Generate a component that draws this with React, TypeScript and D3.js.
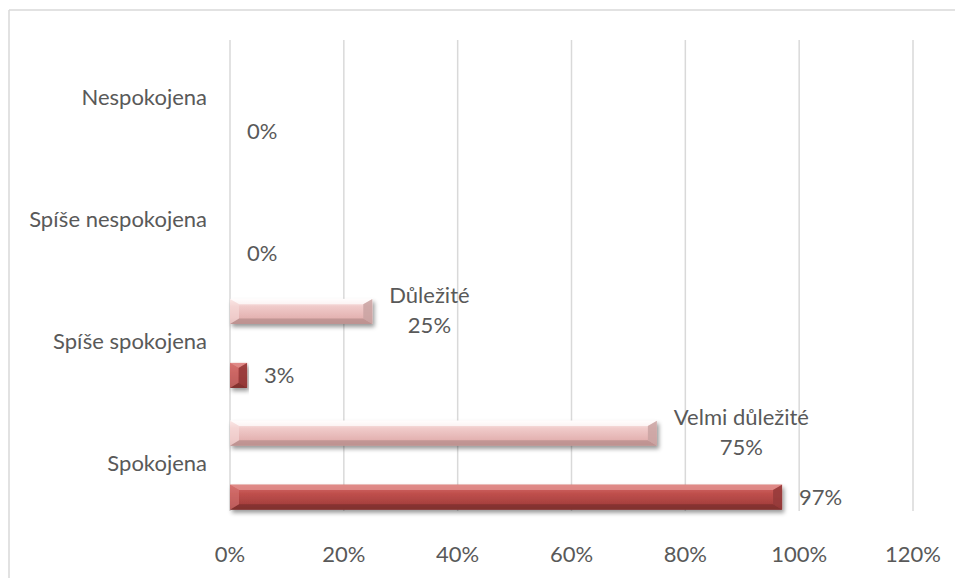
import React from "react";
import * as d3 from "d3";

const categories = ["Nespokojena", "Spíše nespokojena", "Spíše spokojena", "Spokojena"];
const satisfaction = [0, 0, 0.03, 0.97];
const importance: (number | null)[] = [null, null, 0.25, 0.75];
const importanceLabels = ["", "", "Důležité", "Velmi důležité"];
const xTicks = [0, 0.2, 0.4, 0.6, 0.8, 1.0, 1.2];

const W = 955;
const H = 578;
const FONT = "Lato, 'Open Sans', sans-serif";
const FS = 22;
const TXT = "#595959";
const GRID = "#d9d9d9";
const LABEL_GAP = 17;

let measureCtx: CanvasRenderingContext2D | null = null;
function textWidth(s: string): number {
  if (typeof document === "undefined") return s.length * FS * 0.5;
  if (!measureCtx) measureCtx = document.createElement("canvas").getContext("2d");
  if (!measureCtx) return s.length * FS * 0.5;
  measureCtx.font = `${FS}px Lato`;
  return measureCtx.measureText(s).width;
}

type BarProps = { x0: number; x1: number; cy: number; h: number; kind: "dark" | "light" };

function BevelBar({ x0, x1, cy, h, kind }: BarProps) {
  const w = x1 - x0;
  if (w <= 0.5) return null;
  const y0 = cy - h / 2;
  const y1 = cy + h / 2;
  const b = Math.min(9, w / 2, h / 2);
  const top = kind === "dark" ? "#e69896" : "#ffffff";
  const bottom = kind === "dark" ? "#7e2f2d" : "#b88d8c";
  const right = kind === "dark" ? "#94393a" : "#c9a3a2";
  const left = kind === "dark" ? "#d67775" : "#f6dcdb";
  return (
    <g filter="url(#shadow)">
      <rect x={x0} y={y0} width={w} height={h} fill={`url(#face-${kind})`} />
      <polygon points={`${x0},${y0} ${x1},${y0} ${x1 - b},${y0 + b * 0.6} ${x0 + b},${y0 + b * 0.6}`} fill={top} opacity={0.7} />
      <polygon points={`${x0 + b},${y1 - b * 0.6} ${x1 - b},${y1 - b * 0.6} ${x1},${y1} ${x0},${y1}`} fill={bottom} opacity={0.75} />
      <polygon points={`${x1 - b},${y0 + b * 0.6} ${x1},${y0} ${x1},${y1} ${x1 - b},${y1 - b * 0.6}`} fill={right} opacity={0.85} />
      <polygon points={`${x0},${y0} ${x0 + b},${y0 + b * 0.6} ${x0 + b},${y1 - b * 0.6} ${x0},${y1}`} fill={left} opacity={0.6} />
    </g>
  );
}

export default function App() {
  const x = d3.scaleLinear().domain([0, 1.2]).range([230, 913]);
  const y = d3.scaleBand<string>().domain(categories).range([39, 526]).padding(0);
  const sub = d3.scalePoint<string>().domain(["light", "dark"]).range([-32, 32]);
  const fmt = d3.format(".0%");
  const barH = 25;
  const gridTop = 40;
  const gridBottom = 511;

  return (
    <svg width={W} height={H} style={{ position: "absolute", left: 0, top: 0, background: "#fff" }}>
      <defs>
        <linearGradient id="face-dark" x1="0" y1="0" x2="0" y2="1">
          <stop offset="0" stopColor="#d46c6a" />
          <stop offset="0.35" stopColor="#c0504d" />
          <stop offset="0.75" stopColor="#a8413f" />
          <stop offset="1" stopColor="#8a3331" />
        </linearGradient>
        <linearGradient id="face-light" x1="0" y1="0" x2="0" y2="1">
          <stop offset="0" stopColor="#fff8f8" />
          <stop offset="0.3" stopColor="#f0cbca" />
          <stop offset="0.75" stopColor="#e4b3b2" />
          <stop offset="1" stopColor="#c99e9d" />
        </linearGradient>
        <filter id="shadow" x="-5%" y="-40%" width="115%" height="200%">
          <feDropShadow dx="2" dy="3" stdDeviation="2.2" floodColor="#000" floodOpacity="0.4" />
        </filter>
      </defs>

      {/* chart border */}
      <line x1={9} y1={10} x2={W} y2={10} stroke={GRID} strokeWidth={1.5} />
      <line x1={9} y1={10} x2={9} y2={H} stroke={GRID} strokeWidth={1.5} />

      {/* gridlines */}
      {xTicks.map((t) => (
        <line key={t} x1={x(t)} x2={x(t)} y1={gridTop} y2={gridBottom} stroke={GRID} strokeWidth={1.5} />
      ))}

      {/* x tick labels */}
      {xTicks.map((t) => (
        <text key={t} x={x(t)} y={556} textAnchor="middle" dominantBaseline="middle" fontFamily={FONT} fontSize={FS} fill={TXT}>
          {fmt(t)}
        </text>
      ))}

      {/* category labels */}
      {categories.map((c) => (
        <text key={c} x={207} y={(y(c) as number) + y.bandwidth() / 2} textAnchor="end" dominantBaseline="middle" fontFamily={FONT} fontSize={FS} fill={TXT}>
          {c}
        </text>
      ))}

      {/* importance bars */}
      {categories.map((c, i) => {
        const v = importance[i];
        if (v == null) return null;
        const cy = (y(c) as number) + y.bandwidth() / 2 + (sub("light") as number);
        const xe = x(v);
        const boxW = Math.max(textWidth(importanceLabels[i]), textWidth(fmt(v)));
        const lx = xe + LABEL_GAP + boxW / 2;
        return (
          <g key={"l" + c}>
            <BevelBar x0={x(0)} x1={xe} cy={cy} h={barH} kind="light" />
            <text x={lx} y={cy - 14} textAnchor="middle" dominantBaseline="middle" fontFamily={FONT} fontSize={FS} fill={TXT}>
              {importanceLabels[i]}
            </text>
            <text x={lx} y={cy + 16} textAnchor="middle" dominantBaseline="middle" fontFamily={FONT} fontSize={FS} fill={TXT}>
              {fmt(v)}
            </text>
          </g>
        );
      })}

      {/* satisfaction bars */}
      {categories.map((c, i) => {
        const v = satisfaction[i];
        const cy = (y(c) as number) + y.bandwidth() / 2 + (sub("dark") as number);
        const xe = x(v);
        return (
          <g key={"d" + c}>
            <BevelBar x0={x(0)} x1={xe} cy={cy} h={barH} kind="dark" />
            <text x={xe + 17} y={cy + 2} textAnchor="start" dominantBaseline="middle" fontFamily={FONT} fontSize={FS} fill={TXT}>
              {fmt(v)}
            </text>
          </g>
        );
      })}
    </svg>
  );
}
